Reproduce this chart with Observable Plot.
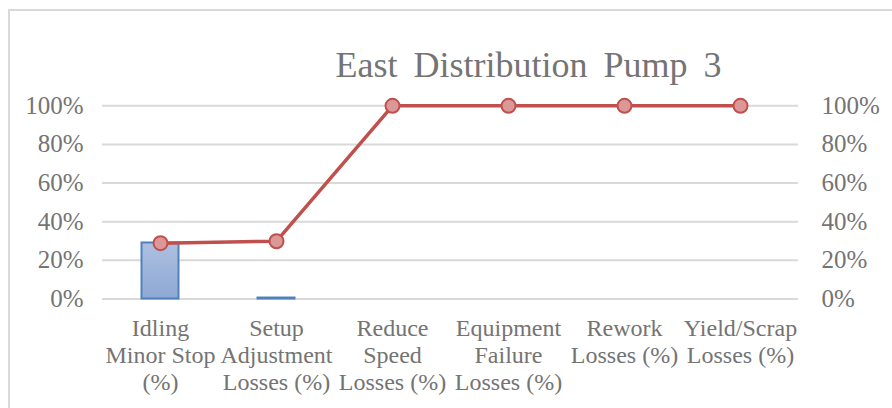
<!DOCTYPE html>
<html>
<head>
<meta charset="utf-8">
<script src="https://cdn.jsdelivr.net/npm/d3@7"></script>
<script src="https://cdn.jsdelivr.net/npm/@observablehq/plot@0.6"></script>
<style>
  html, body { margin: 0; padding: 0; background: #ffffff; }
  #wrap { position: relative; width: 892px; height: 408px; overflow: hidden; }
  #frame { position: absolute; left: 8px; top: 9px; width: 900px; height: 420px;
           border-left: 2px solid #d9d9d9; border-top: 2px solid #d9d9d9; pointer-events: none; }
  svg { display: block; }
</style>
</head>
<body>
<div id="wrap"><div id="chart"></div><div id="frame"></div></div>
<script>
const title = "East Distribution Pump 3";
const categories = [
  "Idling Minor Stop (%)",
  "Setup Adjustment Losses (%)",
  "Reduce Speed Losses (%)",
  "Equipment Failure Losses (%)",
  "Rework Losses (%)",
  "Yield/Scrap Losses (%)"
];
const tickLabels = [
  "Idling\nMinor Stop\n(%)",
  "Setup\nAdjustment\nLosses (%)",
  "Reduce\nSpeed\nLosses (%)",
  "Equipment\nFailure\nLosses (%)",
  "Rework\nLosses (%)",
  "Yield/Scrap\nLosses (%)"
];
const barValues = [0.29, 0.005, 0, 0, 0, 0];
const cumulativeValues = [0.289, 0.299, 1, 1, 1, 1];
const yTicks = [0, 0.2, 0.4, 0.6, 0.8, 1];

const data = categories.map((c, i) => ({category: c, bar: barValues[i], cum: cumulativeValues[i]}));
const pct = d => `${Math.round(d * 100)}%`;
const labelOf = d => tickLabels[categories.indexOf(d)];

const svg = Plot.plot({
  width: 892,
  height: 408,
  marginTop: 105.3,
  marginBottom: 109.5,
  marginLeft: 102,
  marginRight: 94,
  style: {fontFamily: "'Liberation Serif', 'Times New Roman', serif", color: "#747474", background: "transparent"},
  x: {type: "band", domain: categories, padding: 0, axis: null},
  y: {domain: [0, 1], axis: null},
  marks: [
    Plot.gridY(yTicks, {stroke: "#d9d9d9", strokeOpacity: 1, strokeWidth: 2}),
    Plot.barY(data.filter(d => d.bar > 0), {
      x: "category", y: "bar", fill: "url(#barGrad)", stroke: "#4f81bd", strokeWidth: 2,
      insetLeft: 39.5, insetRight: 39.5
    }),
    Plot.line(data, {x: "category", y: "cum", stroke: "#c0504d", strokeWidth: 3.5}),
    Plot.dot(data, {x: "category", y: "cum", r: 7, fill: "#db9896", stroke: "#c0504d", strokeWidth: 2}),
    Plot.axisX({tickSize: 0, tickPadding: 18, tickFormat: labelOf, fontSize: 24, lineHeight: 1.125, label: null}),
    Plot.axisY(yTicks, {anchor: "left", tickSize: 0, tickPadding: 19, tickFormat: pct, fontSize: 25, label: null}),
    Plot.axisY(yTicks, {anchor: "right", tickSize: 0, tickPadding: 23, tickFormat: pct, fontSize: 25, label: null}),
    Plot.text([title], {frameAnchor: "top", dx: 78, dy: -54, fontSize: 36, fill: "#747474"})
  ]
});

const defs = d3.select(svg).insert("defs", ":first-child");
const grad = defs.append("linearGradient").attr("id", "barGrad").attr("x1", 0).attr("y1", 0).attr("x2", 0).attr("y2", 1);
grad.append("stop").attr("offset", "0%").attr("stop-color", "#adc0e0");
grad.append("stop").attr("offset", "100%").attr("stop-color", "#8ea9d5");
d3.select(svg).selectAll("text").filter(function() { return this.textContent === title; }).style("word-spacing", "7px");

document.getElementById("chart").appendChild(svg);
</script>
</body>
</html>
